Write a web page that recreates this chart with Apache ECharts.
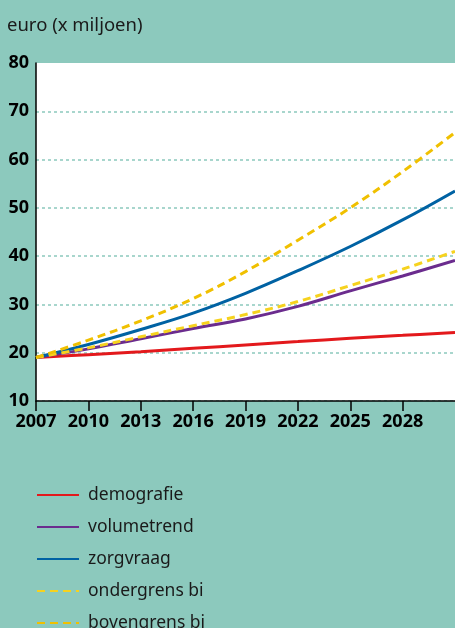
<!DOCTYPE html>
<html>
<head>
<meta charset="utf-8">
<script src="https://cdn.jsdelivr.net/npm/echarts@6/dist/echarts.min.js"></script>
<style>
  html, body { margin: 0; padding: 0; background: #8cc9bd; }
  #main { width: 455px; height: 628px; }
</style>
</head>
<body>
<div id="main"></div>
<script>
// jaren (elke 3 jaar) en waarden
var years = [2007, 2010, 2013, 2016, 2019, 2022, 2025, 2028, 2031];
var demografie = [19.0, 19.6, 20.2, 20.9, 21.6, 22.3, 23.0, 23.6, 24.2];
var volumetrend = [19.0, 20.8, 22.9, 25.0, 27.0, 29.6, 32.8, 35.9, 39.1];
var zorgvraag = [19.0, 21.7, 24.8, 28.2, 32.3, 37.0, 42.0, 47.5, 53.5];
var ondergrens = [19.0, 21.0, 23.3, 25.6, 27.9, 30.6, 33.9, 37.3, 41.0];
var bovengrens = [19.0, 22.6, 26.6, 31.2, 36.8, 43.3, 50.0, 57.5, 65.6];

function pairs(vals) {
    var out = [];
    for (var i = 0; i < years.length; i++) {
        out.push([years[i], vals[i]]);
    }
    return out;
}

function makeLine(name, vals, color, dashed) {
    return {
        name: name,
        type: 'line',
        smooth: 0.4,
        symbol: 'none',
        clip: true,
        lineStyle: {
            color: color,
            width: 3,
            type: dashed ? [8, 5] : 'solid'
        },
        itemStyle: { color: color },
        data: pairs(vals)
    };
}

var chart = echarts.init(document.getElementById('main'));

var option = {
    backgroundColor: '#8cc9bd',
    animation: false,
    title: {
        text: 'euro (x miljoen)',
        left: 2,
        top: 11,
        textStyle: {
            fontFamily: 'Noto Sans',
            fontWeight: 'normal',
            fontSize: 18.5,
            color: '#1a1a1a'
        }
    },
    legend: {
        orient: 'vertical',
        left: 36,
        top: 486,
        height: 200,
        padding: 0,
        itemWidth: 42,
        itemHeight: 14,
        itemGap: 14,
        itemStyle: { opacity: 0 },
        textStyle: {
            fontFamily: 'Noto Sans',
            fontSize: 17.5,
            lineHeight: 18,
            color: '#1a1a1a',
            padding: [0, 0, 0, 4]
        },
        data: ['demografie', 'volumetrend', 'zorgvraag', 'ondergrens bi', 'bovengrens bi']
    },
    grid: {
        show: true,
        backgroundColor: '#ffffff',
        borderWidth: 0,
        left: 36,
        top: 63,
        right: -2,
        bottom: 227
    },
    xAxis: {
        type: 'value',
        min: 2007,
        max: 2031,
        interval: 3,
        axisLine: { show: true, lineStyle: { color: '#000', width: 1.5 } },
        axisTick: { show: true, length: 10, lineStyle: { color: '#000', width: 1.5 } },
        splitLine: { show: false },
        axisLabel: {
            showMaxLabel: false,
            margin: 12,
            fontFamily: 'Noto Sans',
            fontWeight: 'bold',
            fontSize: 18,
            color: '#000',
            formatter: function (v) { return String(v); }
        }
    },
    yAxis: {
        type: 'value',
        min: 10,
        max: 80,
        interval: 10,
        axisLine: { show: true, lineStyle: { color: '#000', width: 1.5 } },
        axisTick: { show: false },
        splitLine: {
            show: true,
            showMaxLine: false,
            lineStyle: { color: '#8cc9bd', width: 1.5, type: [3, 3] }
        },
        axisLabel: {
            margin: 7,
            fontFamily: 'Noto Sans',
            fontWeight: 'bold',
            fontSize: 18,
            color: '#000'
        }
    },
    series: [
        makeLine('demografie', demografie, '#e3191c', false),
        makeLine('volumetrend', volumetrend, '#6b2c8e', false),
        makeLine('zorgvraag', zorgvraag, '#0062a3', false),
        makeLine('ondergrens bi', ondergrens, '#f6d21e', true),
        makeLine('bovengrens bi', bovengrens, '#f0c000', true)
    ]
};

chart.setOption(option);
</script>
</body>
</html>
